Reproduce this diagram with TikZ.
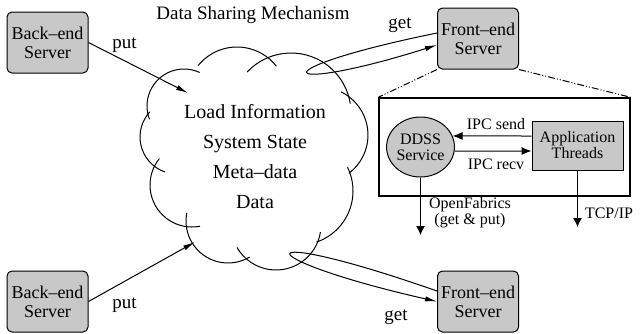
\documentclass[tikz,border=0pt]{standalone}
\usepackage{fontspec}
\setmainfont{Liberation Serif}
\usetikzlibrary{arrows.meta}
\usetikzlibrary{shapes.geometric}
\definecolor{boxgray}{RGB}{200,200,200}
\tikzset{>=latex}
\tikzset{
    server/.style={draw, fill=boxgray, rounded corners=2.5pt, minimum width=40.5pt,
        minimum height=30.5pt, inner sep=0pt, align=center, font=\fontsize{9}{9.5}\selectfont},
    label/.style={font=\fontsize{9.5}{11}\selectfont},
    small/.style={font=\fontsize{8}{8}\selectfont, align=center},
    flow/.style={-{Latex[length=6pt,width=2.6pt]}},
    ipc/.style={-{Latex[length=5pt,width=4pt]}},
    drop/.style={-{Latex[length=4.5pt,width=4.5pt]}},
    zoomline/.style={dash pattern=on 3.5pt off 1pt on 0.5pt off 1pt on 0.5pt off 1pt}
}

\begin{document}
\begin{tikzpicture}[x=0.5pt, y=-0.5pt, line width=0.5pt]
            \useasboundingbox (0,0) rectangle (642,333);
            \node[server] (back1) at (47.5,42.5) {Back--end\\Server};
            \node[server] (back2) at (47.5,301.5) {Back--end\\Server};
            \node[server] (front1) at (478,38.5) {Front--end\\Server};
            \node[server] (front2) at (478,301.5) {Front--end\\Server};
            \node[label] (title) at (253,15) {Data Sharing Mechanism};
            % cloud
            \foreach \cx/\cy/\r/\a/\b in {184/106/37/159/295, 237/97/50/219/322,
                    291/113/60/223/351, 320/135/48/-64/53, 299/191/54/-26/71,
                    276/225/45/9/150, 228/221/42/59/191, 192/185/42/79/219,
                    177/137/37/109/223} {
                \draw (\cx,\cy) ++(\a:\r) arc[start angle=\a, end angle=\b, radius=\r];
            }
            \node[align=center, font=\fontsize{10}{15}\selectfont] (store) at (255,157)
                {Load Information\\System State\\Meta--data\\Data};
            % put and get
            \coordinate (puttip1) at (188,93);
            \coordinate (puttip2) at (195,242);
            \draw[flow] (back1.east) -- (puttip1);
            \draw[flow] (back2.east) -- (puttip2);
            \node[label] (put1) at (124.5,45) {put};
            \node[label] (put2) at (124.5,305) {put};
            \draw[flow] ([yshift=2.75pt]front1.west) .. controls (255,70) and (275,96) .. ([yshift=-3.25pt]front1.west);
            \draw[flow] ([yshift=5.25pt]front2.west) .. controls (240,222) and (245,258) .. (front2.west);
            \node[label] (get1) at (400,25) {get};
            \node[label] (get2) at (396,317) {get};
            % inside the front-end server
            \node[draw, line width=0.7pt, minimum width=125.5pt, minimum height=49pt] (detail) at (504.5,147) {};
            \draw[zoomline] (front1.south west) -- (detail.north west);
            \draw[zoomline] (front1.south east) -- (detail.north east);
            \node[ellipse, draw, fill=boxgray, minimum width=33.5pt, minimum height=30pt,
                inner sep=0pt, small] (ddss) at (420.5,147) {DDSS\\Service};
            \node[draw, fill=boxgray, minimum width=45.5pt, minimum height=24.5pt,
                inner sep=0pt, small] (app) at (577.5,145.5) {Application\\Threads};
            \draw[ipc] ([yshift=4.75pt]app.west) -- (ddss.19);
            \draw[ipc] (ddss.-7) -- ([yshift=-2.75pt]app.west);
            \node[small] (sendlbl) at (496,124) {IPC send};
            \node[small] (recvlbl) at (496,164) {IPC recv};
            \coordinate (fabricend) at (420.5,235);
            \coordinate (tcpend) at (577.5,227);
            \draw[drop] (ddss.south) -- (fabricend);
            \draw[drop] (app.south) -- (tcpend);
            \node[small] (fabriclbl) at (470,213) {OpenFabrics\\(get \& put)};
            \node[small] (tcplbl) at (609,213) {TCP/IP};
        \end{tikzpicture}
\end{document}
